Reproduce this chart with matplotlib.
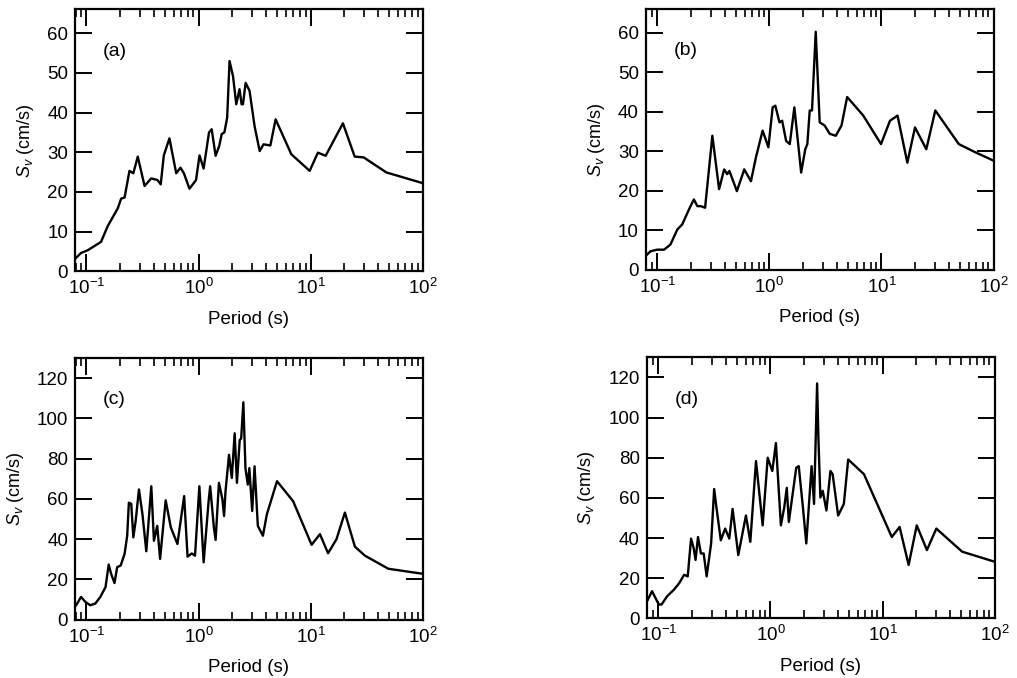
import matplotlib
matplotlib.use("Agg")
import matplotlib.pyplot as plt
from matplotlib.ticker import LogLocator, NullLocator

plt.rcParams["font.family"] = ["Liberation Sans", "DejaVu Sans"]
plt.rcParams["mathtext.fontset"] = "custom"
plt.rcParams["mathtext.rm"] = "Liberation Sans"
plt.rcParams["mathtext.it"] = "Liberation Sans:italic"
plt.rcParams["font.size"] = 13

# Espectros de velocidad
period_a = [0.081, 0.0895, 0.103, 0.135, 0.155, 0.19, 0.204, 0.219, 0.242, 0.262,
            0.287, 0.33, 0.378, 0.43, 0.46, 0.49, 0.55, 0.632, 0.69, 0.74,
            0.83, 0.95, 1.02, 1.11, 1.24, 1.31, 1.42, 1.53, 1.61, 1.70,
            1.80, 1.89, 2.03, 2.17, 2.32, 2.42, 2.49, 2.63, 2.85, 3.16,
            3.51, 3.80, 4.37, 4.87, 6.72, 9.8, 11.6, 13.6, 19.4, 24.7,
            29.7, 47.4, 100]
sv_a = [3.4, 4.6, 5.3, 7.4, 11.4, 15.8, 18.3, 18.6, 25.3, 24.7,
        28.9, 21.5, 23.4, 23.0, 21.9, 29.2, 33.5, 24.7, 26.1, 24.7,
        20.8, 23.0, 29.2, 25.9, 35.0, 35.8, 29.1, 31.6, 34.6, 35.0,
        38.7, 53.0, 49.2, 42.1, 45.9, 42.1, 42.1, 47.5, 45.5, 36.6,
        30.3, 32.0, 31.7, 38.3, 29.5, 25.3, 29.9, 29.1, 37.3, 28.9,
        28.7, 24.9, 22.2]

period_b = [0.078, 0.087, 0.0997, 0.115, 0.131, 0.151, 0.167, 0.192, 0.212, 0.228,
            0.245, 0.267, 0.31, 0.356, 0.395, 0.42, 0.44, 0.513, 0.597, 0.685,
            0.758, 0.87, 0.98, 1.07, 1.13, 1.23, 1.30, 1.41, 1.52, 1.67,
            1.92, 2.09, 2.18, 2.29, 2.4, 2.59, 2.81, 3.11, 3.45, 3.91,
            4.40, 4.94, 6.88, 9.9, 11.9, 13.9, 17.0, 19.9, 25.1, 30.2,
            48.9, 66.7, 100]
sv_b = [3.4, 4.7, 5.1, 5.1, 6.4, 10.2, 11.5, 15.3, 17.8, 16.1,
        16.1, 15.7, 33.9, 20.4, 25.4, 24.2, 25.0, 19.9, 25.4, 22.4,
        28.4, 35.2, 31.0, 41.1, 41.5, 37.3, 37.7, 32.6, 31.8, 41.1,
        24.6, 30.5, 31.8, 40.3, 40.3, 60.2, 37.3, 36.5, 34.4, 33.9,
        36.5, 43.7, 39.0, 31.8, 37.7, 39.0, 27.1, 36.0, 30.5, 40.3,
        31.8, 29.9, 27.6]

period_c = [0.081, 0.0895, 0.098, 0.108, 0.120, 0.133, 0.148, 0.158, 0.166, 0.178,
            0.188, 0.202, 0.219, 0.231, 0.239, 0.251, 0.262, 0.275, 0.294, 0.316,
            0.342, 0.379, 0.400, 0.428, 0.454, 0.509, 0.566, 0.648, 0.744, 0.798,
            0.87, 0.93, 1.017, 1.11, 1.23, 1.27, 1.37, 1.42, 1.52, 1.63,
            1.69, 1.74, 1.87, 1.98, 2.10, 2.20, 2.33, 2.40, 2.51, 2.62,
            2.75, 2.84, 3.01, 3.16, 3.38, 3.75, 4.07, 5.01, 6.97, 10.2,
            12.1, 14.3, 17.0, 20.2, 24.8, 30.5, 49.3, 100]
sv_c = [7.2, 11.3, 8.8, 7.2, 8.0, 11.3, 16.2, 27.4, 22.8, 18.2,
        26.1, 26.9, 32.7, 41.7, 58.1, 57.6, 40.9, 49.1, 64.7, 52.4,
        34.0, 66.3, 39.2, 46.6, 30.2, 59.3, 45.8, 37.6, 61.4, 31.3,
        32.9, 31.8, 66.3, 28.5, 58.9, 66.3, 45.8, 39.6, 68.0, 60.0,
        51.5, 63.8, 81.9, 70.4, 92.6, 68.0, 89.3, 90.0, 108.0, 75.3,
        67.1, 75.3, 54.0, 76.2, 46.6, 41.7, 52.4, 68.8, 58.9, 37.2,
        42.5, 33.0, 40.0, 53.2, 36.3, 31.8, 25.3, 22.8]

period_d = [0.078, 0.088, 0.101, 0.107, 0.12, 0.138, 0.154, 0.17, 0.183, 0.196,
            0.207, 0.215, 0.226, 0.240, 0.254, 0.27, 0.296, 0.315, 0.33, 0.361,
            0.395, 0.43, 0.46, 0.517, 0.605, 0.662, 0.744, 0.853, 0.946, 1.04,
            1.12, 1.24, 1.33, 1.40, 1.46, 1.70, 1.79, 1.95, 2.09, 2.24,
            2.33, 2.45, 2.61, 2.68, 2.79, 2.93, 3.16, 3.43, 3.59, 4.02,
            4.52, 4.94, 6.83, 12.1, 14.2, 17.1, 20.2, 24.9, 30.2, 51.3,
            100]
sv_d = [7.7, 13.5, 6.9, 6.9, 11.0, 14.3, 17.6, 21.7, 20.9, 39.7,
        34.8, 29.1, 40.5, 32.3, 32.3, 20.9, 37.3, 64.4, 55.3, 38.9,
        44.7, 39.7, 54.5, 31.5, 51.2, 38.1, 78.3, 46.3, 80.0, 73.4,
        87.3, 46.3, 55.3, 65.0, 48.0, 75.0, 75.8, 55.3, 37.3, 61.9,
        75.8, 57.0, 117.0, 89.8, 60.2, 63.5, 53.7, 73.4, 71.8, 51.2,
        57.0, 79.1, 71.8, 40.5, 45.5, 26.6, 46.3, 34.0, 44.7, 33.2,
        28.2]

paneles = [
    ("(a)", period_a, sv_a, 66, 10, [0.0737, 0.600, 0.342, 0.386]),
    ("(b)", period_b, sv_b, 66, 10, [0.635, 0.602, 0.342, 0.385]),
    ("(c)", period_c, sv_c, 130, 20, [0.0737, 0.086, 0.342, 0.386]),
    ("(d)", period_d, sv_d, 130, 20, [0.636, 0.088, 0.342, 0.385]),
]

fig = plt.figure(figsize=(10.17, 6.78), dpi=100)

for etiqueta, periodo, sv, ymax, paso, pos in paneles:
    ax = fig.add_axes(pos)
    ax.plot(periodo, sv, color="black", linewidth=1.7)
    ax.set_xscale("log")
    ax.set_xlim(0.079, 100)
    ax.set_ylim(0, ymax)
    ax.set_yticks(range(0, ymax, paso))
    ax.xaxis.set_major_locator(LogLocator(base=10, numticks=10))
    ax.xaxis.set_minor_locator(LogLocator(base=10, subs=range(2, 10), numticks=10))
    ax.yaxis.set_minor_locator(NullLocator())
    ax.tick_params(which="major", direction="in", length=12, width=1.4,
                   top=True, right=True, labelsize=13.5, pad=5)
    ax.tick_params(which="minor", direction="in", length=6, width=1.2,
                   top=True, right=True)
    for s in ax.spines.values():
        s.set_linewidth(1.6)
    ax.set_xlabel("Period (s)", fontsize=13.5, labelpad=9)
    ax.set_ylabel(r"$S_v$ (cm/s)", fontsize=13, labelpad=8)
    ax.text(0.08, 0.84, etiqueta, transform=ax.transAxes, fontsize=14, va="center")

fig.savefig("out.png", dpi=100)
plt.close(fig)
